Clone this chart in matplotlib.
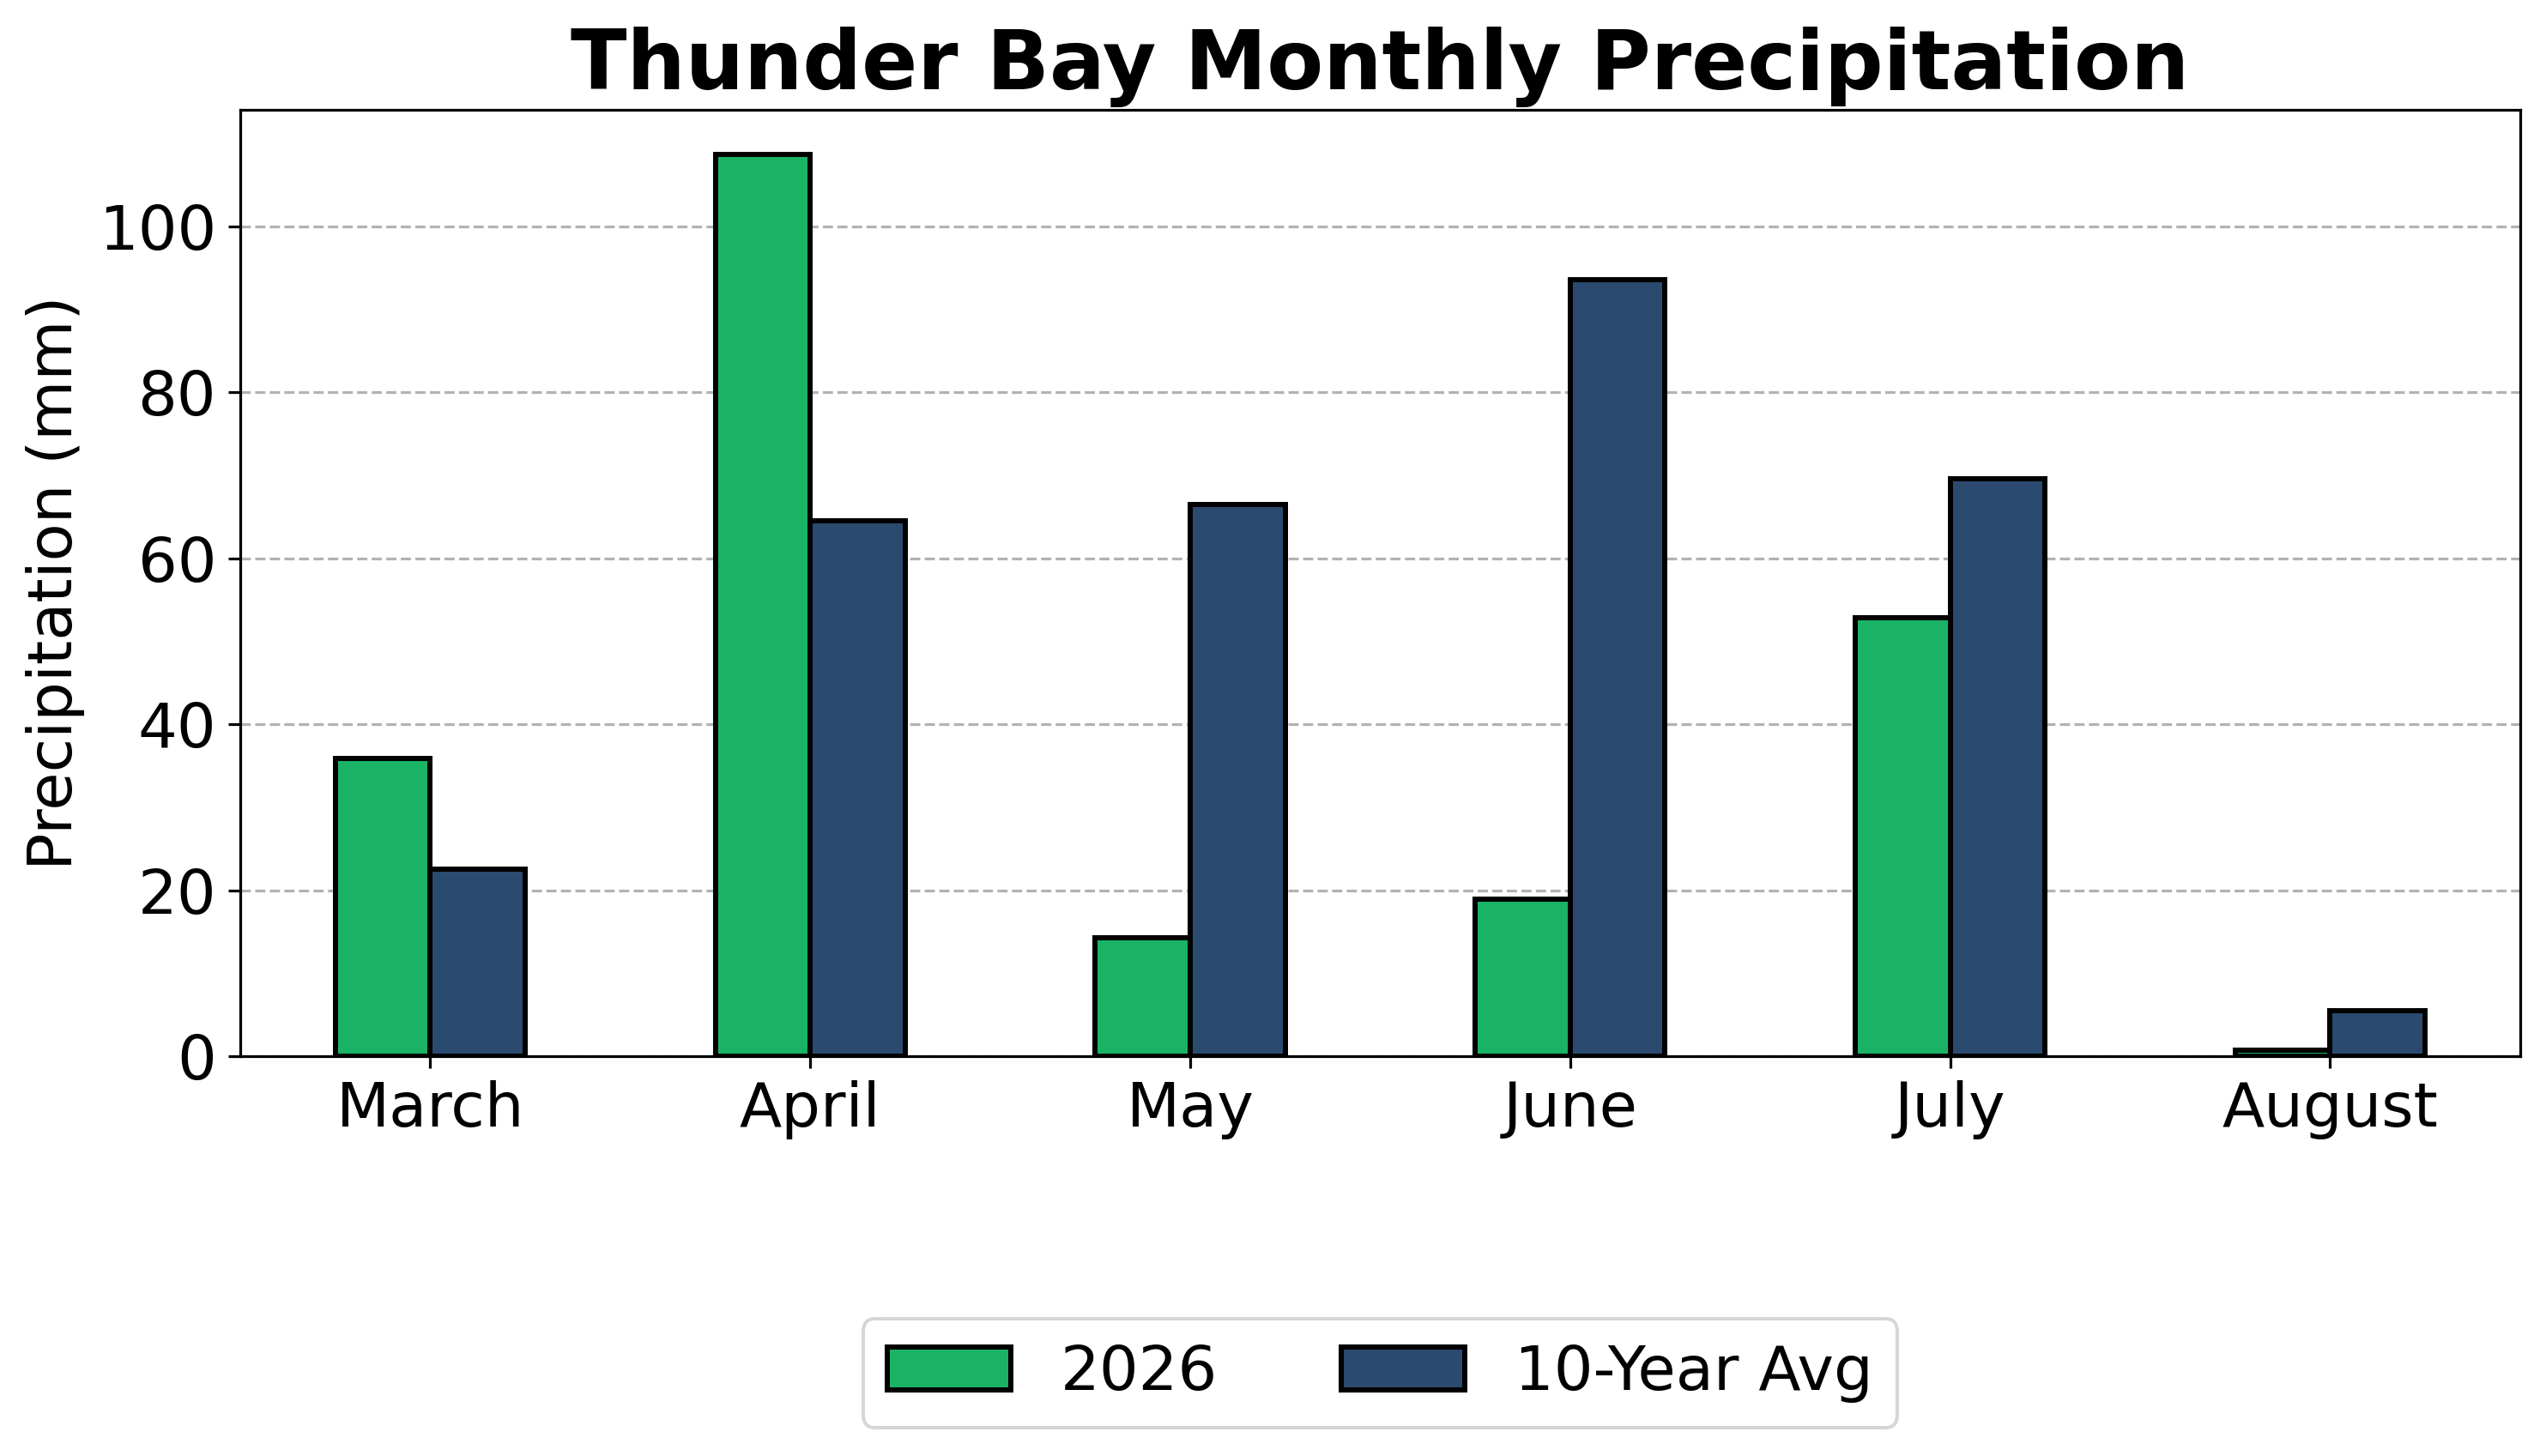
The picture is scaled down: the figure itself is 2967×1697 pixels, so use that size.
import matplotlib
matplotlib.use("Agg")
import matplotlib.pyplot as plt
import numpy as np

months = ["March", "April", "May", "June", "July", "August"]
precip_2026 = [35.9, 108.6, 14.3, 18.9, 52.8, 0.7]
precip_avg = [22.5, 64.5, 66.5, 93.6, 69.6, 5.5]

GREEN = "#1AB366"
NAVY = "#2B4A6F"
DPI = 288

fig = plt.figure(figsize=(2967 / DPI, 1697 / DPI), dpi=DPI)
ax = fig.add_axes([0.0944, 0.2746, 0.8954, 0.650])

x = np.arange(len(months))
w = 0.25
ax.bar(x - w / 2, precip_2026, w, color=GREEN, edgecolor="black",
       linewidth=1.5, label="2026", zorder=3)
ax.bar(x + w / 2, precip_avg, w, color=NAVY, edgecolor="black",
       linewidth=1.5, label="10-Year Avg", zorder=3)

ax.set_xticks(x)
ax.set_xticklabels(months)
ax.set_xlim(-0.5, len(months) - 0.5)
ax.tick_params(axis="both", labelsize=18)
ax.set_ylabel("Precipitation (mm)", fontsize=18)
ax.set_title("Thunder Bay Monthly Precipitation", fontsize=24,
             fontweight="bold")
ax.yaxis.grid(True, linestyle="--", color="gray", alpha=0.6, linewidth=0.8,
              zorder=0)
ax.set_axisbelow(True)

ax.legend(loc="upper center", bbox_to_anchor=(0.5, -0.245), ncol=2,
          fontsize=18)

fig.savefig("out.png", dpi=DPI)
